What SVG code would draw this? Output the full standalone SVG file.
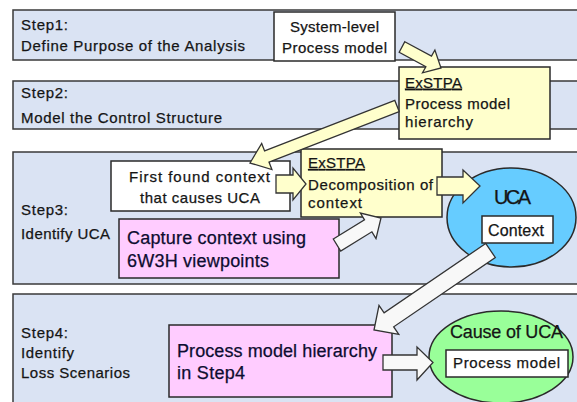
<svg xmlns="http://www.w3.org/2000/svg" width="577" height="402" viewBox="0 0 577 402">
<style>
text{font-family:"Liberation Sans",Arial,sans-serif;fill:#151515;stroke:#151515;stroke-width:0.25}
.band{fill:#DAE3F3;stroke:#3a3a3a;stroke-width:1.5}
.lbl{font-size:15px}
.box{stroke:#2a2a2a;stroke-width:1.5}
.w{fill:#ffffff}
.y{fill:#FFFFCC}
.p{fill:#FFCCFF}
.t15{font-size:15px}
.t18{font-size:18px;fill:#0d0d30;stroke:#0d0d30}
.u{text-decoration:underline}
.ay{fill:#FFFFCC;stroke:#333;stroke-width:1.3;stroke-linejoin:miter}
.aw{fill:#F8F8F8;stroke:#333;stroke-width:1.3;stroke-linejoin:miter}
</style>
<rect x="0" y="0" width="577" height="402" fill="#ffffff"/>
<g id="step1">
<rect class="band" x="13" y="10" width="580" height="50"/>
<text class="lbl" x="21" y="29.5" textLength="47">Step1:</text>
<text class="lbl" x="21" y="50.5" textLength="224">Define Purpose of the Analysis</text>
</g>
<g id="step2">
<rect class="band" x="13" y="81" width="580" height="48"/>
<text class="lbl" x="21" y="97.5" textLength="47">Step2:</text>
<text class="lbl" x="21" y="122.5" textLength="201">Model the Control Structure</text>
</g>
<g id="step3">
<rect class="band" x="13" y="152" width="580" height="132"/>
<text class="lbl" x="21" y="214.5" textLength="47">Step3:</text>
<text class="lbl" x="21" y="238.5" textLength="89">Identify UCA</text>
</g>
<g id="step4">
<rect class="band" x="13" y="294" width="580" height="120"/>
<text class="lbl" x="21" y="337.5" textLength="47">Step4:</text>
<text class="lbl" x="21" y="357.7" textLength="53">Identify</text>
<text class="lbl" x="21" y="378.3" textLength="109">Loss Scenarios</text>
</g>
<g id="system-level-model">
<rect class="box w" x="274" y="12" width="121" height="49"/>
<text class="t15" x="334.5" y="31.7" text-anchor="middle" textLength="89">System-level</text>
<text class="t15" x="334.5" y="52.7" text-anchor="middle" textLength="105">Process model</text>
</g>
<g id="exstpa-hierarchy">
<rect class="box y" x="399" y="67" width="151" height="72"/>
<text class="t15 u" x="405" y="87.7" textLength="57">ExSTPA</text>
<text class="t15" x="405" y="108.5" textLength="105">Process model</text>
<text class="t15" x="405" y="126.5" textLength="68">hierarchy</text>
</g>
<g id="first-found-context">
<rect class="box w" x="111" y="161" width="179" height="50"/>
<text class="t15" x="199.5" y="181.7" text-anchor="middle" textLength="141">First found context</text>
<text class="t15" x="200" y="202.7" text-anchor="middle" textLength="120">that causes UCA</text>
</g>
<g id="exstpa-decomposition">
<rect class="box y" x="301" y="149" width="141" height="68"/>
<text class="t15 u" x="308" y="168" textLength="57">ExSTPA</text>
<text class="t15" x="308" y="189.5" textLength="125">Decomposition of</text>
<text class="t15" x="308" y="208" textLength="54">context</text>
</g>
<g id="capture-context">
<rect class="box p" x="119" y="219" width="220" height="59"/>
<text class="t18" x="127" y="244" textLength="179">Capture context using</text>
<text class="t18" x="127" y="266.5" textLength="142">6W3H viewpoints</text>
</g>
<g id="uca">
<ellipse cx="511.5" cy="217.5" rx="64.5" ry="49.5" fill="#66CCFF" stroke="#2a2a2a" stroke-width="1.5"/>
<text x="512.5" y="204" text-anchor="middle" font-size="20" textLength="37">UCA</text>
<rect class="box w" x="482" y="216" width="71" height="27"/>
<text x="516" y="236" text-anchor="middle" font-size="16" textLength="56">Context</text>
</g>
<g id="pm-hierarchy-step4">
<rect class="box p" x="169" y="325" width="223" height="72"/>
<text class="t18" x="177" y="357" textLength="200">Process model hierarchy</text>
<text class="t18" x="177" y="378.5" textLength="68">in Step4</text>
</g>
<g id="cause-of-uca">
<ellipse cx="501" cy="357" rx="72" ry="46" fill="#99FF99" stroke="#2a2a2a" stroke-width="1.5"/>
<text x="506.5" y="338" text-anchor="middle" font-size="18" textLength="113">Cause of UCA</text>
<rect class="box w" x="446" y="350" width="122" height="27"/>
<text x="506.5" y="368" text-anchor="middle" font-size="15" textLength="107">Process model</text>
</g>
<g id="connectors">
<polygon class="ay" points="404.8,41.7 431.5,56.1 434.9,50 441,68 422.5,72.8 425.9,66.7 399.2,52.3"/>
<polygon class="ay" points="394.8,100.4 264.6,150.9 261.7,143.5 250,163 271.9,169.5 269,162.1 399.2,111.6"/>
<polygon class="ay" points="276,175 293,175 293,168 306,184 293,200 293,193 276,193"/>
<polygon class="ay" points="437,177 463,177 463,170 480,186 463,203 463,195 437,195"/>
<polygon class="aw" points="333.3,239 364.5,219.9 360.4,213.1 381,218 376,238.6 371.9,231.8 340.7,251"/>
<polygon class="aw" points="485.7,243.5 384.1,312.8 379,305.3 374,330 398.8,334.3 393.7,326.8 495.3,257.5"/>
<polygon class="aw" points="383,355 417,355 417,347 433,362.5 417,380 417,370 383,370"/>
</g>
</svg>
